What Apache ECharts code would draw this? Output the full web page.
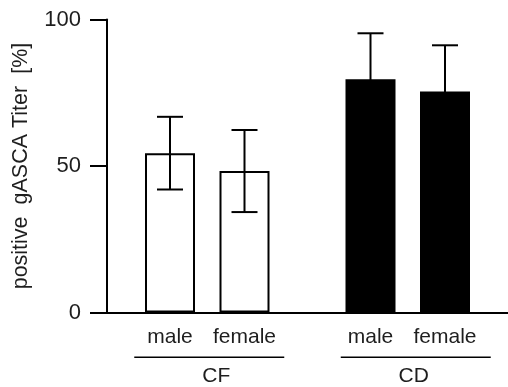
<!DOCTYPE html>
<html><head><meta charset="utf-8">
<script src="https://cdn.jsdelivr.net/npm/echarts@6/dist/echarts.min.js"></script>
<style>html,body{margin:0;padding:0;background:#fff}#c{width:508px;height:387px}</style>
</head><body><div id="c"></div>
<script>
const groups = ['CF', 'CD'];
const sexes = ['male', 'female'];
const maleValues = [54.4, 79.6];
const maleErrors = [12.4, 15.7];
const femaleValues = [48.3, 75.4];
const femaleErrors = [14.0, 15.8];
const groupFills = ['#ffffff', '#000000'];
const yTicks = [0, 50, 100];
const yTitle = 'positive  gASCA Titer  [%]';

const FONT = '"Liberation Sans", Arial, Helvetica, sans-serif';
const TXT = '#1e1e1e';
const BAR_W = 50, BAR_GAP = '49%';
// visual nudges of group underline / group name (px shift right)
const lineShift = [2, 8], nameShift = [9, 6];

const chart = echarts.init(document.getElementById('c'), null, {renderer: 'canvas'});

function barSeries(name, values) {
  return {
    type: 'bar', name: name, barWidth: BAR_W, barGap: BAR_GAP,
    data: values.map((v, i) => ({value: v, itemStyle: {color: groupFills[i]}})),
    itemStyle: {borderColor: '#000', borderWidth: 2},
    label: {show: true, position: 'bottom', distance: 14, formatter: name,
            fontSize: 21, fontFamily: FONT, color: TXT},
    z: 2
  };
}

function errorSeries(values, errors, idx) {
  return {
    type: 'custom', name: sexes[idx] + ' error',
    data: values.map((v, i) => [i, v - errors[i], v + errors[i]]),
    encode: {x: 0, y: [1, 2]},
    z: 3,
    renderItem: function (params, api) {
      let off;
      const layout = api.barLayout ? api.barLayout({barWidth: BAR_W, barGap: BAR_GAP, count: 2}) : null;
      if (layout && layout[idx]) off = layout[idx].offsetCenter;
      else { const gap = BAR_W * 0.49; off = (idx === 0 ? -1 : 1) * (BAR_W + gap) / 2; }
      const cat = api.value(0);
      const lo = api.coord([cat, api.value(1)]);
      const hi = api.coord([cat, api.value(2)]);
      const x = lo[0] + off;
      const half = 13;
      const st = {stroke: '#000', lineWidth: 2};
      return {type: 'group', children: [
        {type: 'line', shape: {x1: x, y1: hi[1], x2: x, y2: lo[1]}, style: st},
        {type: 'line', shape: {x1: x - half, y1: hi[1], x2: x + half, y2: hi[1]}, style: st},
        {type: 'line', shape: {x1: x - half, y1: lo[1], x2: x + half, y2: lo[1]}, style: st}
      ]};
    }
  };
}

const rich = {
  ln: {width: 150, height: 1.4, lineHeight: 1.4, backgroundColor: '#000'},
  nm: {fontSize: 21, fontFamily: FONT, color: TXT, lineHeight: 37}
};
groups.forEach((g, i) => {
  rich['sl' + i] = {width: lineShift[i] * 2, height: 1.4, lineHeight: 1.4};
  rich['sn' + i] = {width: nameShift[i] * 2, lineHeight: 37};
});

chart.setOption({
  animation: false,
  backgroundColor: '#fff',
  grid: {left: 107, right: 0, top: 19.5, bottom: 74.3, containLabel: false},
  xAxis: {
    type: 'category', data: groups,
    axisTick: {show: false},
    axisLine: {lineStyle: {color: '#000', width: 2}},
    axisLabel: {
      interval: 0, margin: 44,
      formatter: function (v, i) { return '{sl' + i + '|}{ln|}\n{sn' + i + '|}{nm|' + v + '}'; },
      rich: rich
    },
    splitLine: {show: false}
  },
  yAxis: {
    type: 'value', min: yTicks[0], max: yTicks[yTicks.length - 1], interval: yTicks[1] - yTicks[0],
    name: yTitle, nameLocation: 'middle', nameGap: 75,
    nameTextStyle: {fontSize: 21.5, fontFamily: FONT, color: TXT},
    axisLine: {show: true, lineStyle: {color: '#000', width: 2}},
    axisTick: {show: true, length: 17, lineStyle: {color: '#000', width: 2}},
    axisLabel: {fontSize: 22, fontFamily: FONT, color: TXT, margin: 26},
    splitLine: {show: false}
  },
  series: [
    barSeries(sexes[0], maleValues),
    barSeries(sexes[1], femaleValues),
    errorSeries(maleValues, maleErrors, 0),
    errorSeries(femaleValues, femaleErrors, 1)
  ]
});
</script>
</body></html>
